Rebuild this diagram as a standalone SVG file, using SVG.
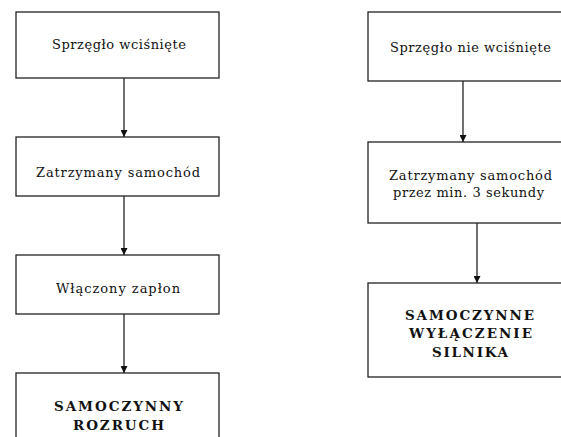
<svg xmlns="http://www.w3.org/2000/svg" width="561" height="437" viewBox="0 0 561 437">
<style>
.box{fill:#fff;stroke:#222;stroke-width:1.3}
.t{font-family:"DejaVu Serif","Liberation Serif",serif;font-size:13px;fill:#111;text-anchor:middle}
.b{font-weight:bold;font-size:13.5px}
.c{stroke:#111;stroke-width:1.2;fill:none}
</style>
<defs>
<marker id="ah" viewBox="0 0 10 10" refX="10" refY="5" markerWidth="7" markerHeight="7" markerUnits="userSpaceOnUse" orient="auto">
<path d="M0,0 L10,5 L0,10 Z" fill="#111"/>
</marker>
</defs>
<rect width="561" height="437" fill="#fff"/>
<g id="connectors">
<line class="c" x1="124" y1="78" x2="124" y2="137" marker-end="url(#ah)"/>
<line class="c" x1="124" y1="196" x2="124" y2="255" marker-end="url(#ah)"/>
<line class="c" x1="124" y1="314" x2="124" y2="373" marker-end="url(#ah)"/>
<line class="c" x1="463" y1="81" x2="463" y2="142" marker-end="url(#ah)"/>
<line class="c" x1="477" y1="223" x2="477" y2="283" marker-end="url(#ah)"/>
</g>
<g id="n1">
<rect class="box" x="16" y="12" width="203" height="66"/>
<text class="t" x="119" y="49" textLength="134" lengthAdjust="spacing">Sprzęgło wciśnięte</text>
</g>
<g id="n2">
<rect class="box" x="16" y="137" width="203" height="59"/>
<text class="t" x="118" y="177" textLength="164" lengthAdjust="spacing">Zatrzymany samochód</text>
</g>
<g id="n3">
<rect class="box" x="16" y="255" width="203" height="59"/>
<text class="t" x="118" y="293" textLength="124" lengthAdjust="spacing">Włączony zapłon</text>
</g>
<g id="n4">
<rect class="box" x="16" y="373" width="203" height="80"/>
<text class="t b" x="118.5" y="411" textLength="129" lengthAdjust="spacing">SAMOCZYNNY</text>
<text class="t b" x="118.5" y="430" textLength="91" lengthAdjust="spacing">ROZRUCH</text>
</g>
<g id="n5">
<rect class="box" x="368" y="12" width="210" height="69"/>
<text class="t" x="470.5" y="52" textLength="161" lengthAdjust="spacing">Sprzęgło nie wciśnięte</text>
</g>
<g id="n6">
<rect class="box" x="368" y="142" width="210" height="81"/>
<text class="t" x="470.5" y="180" textLength="163" lengthAdjust="spacing">Zatrzymany samochód</text>
<text class="t" x="468.5" y="197" textLength="151" lengthAdjust="spacing">przez min. 3 sekundy</text>
</g>
<g id="n7">
<rect class="box" x="368" y="283" width="210" height="94"/>
<text class="t b" x="469.5" y="320" textLength="129" lengthAdjust="spacing">SAMOCZYNNE</text>
<text class="t b" x="470.5" y="338" textLength="123" lengthAdjust="spacing">WYŁĄCZENIE</text>
<text class="t b" x="470" y="357" textLength="76" lengthAdjust="spacing">SILNIKA</text>
</g>
</svg>
